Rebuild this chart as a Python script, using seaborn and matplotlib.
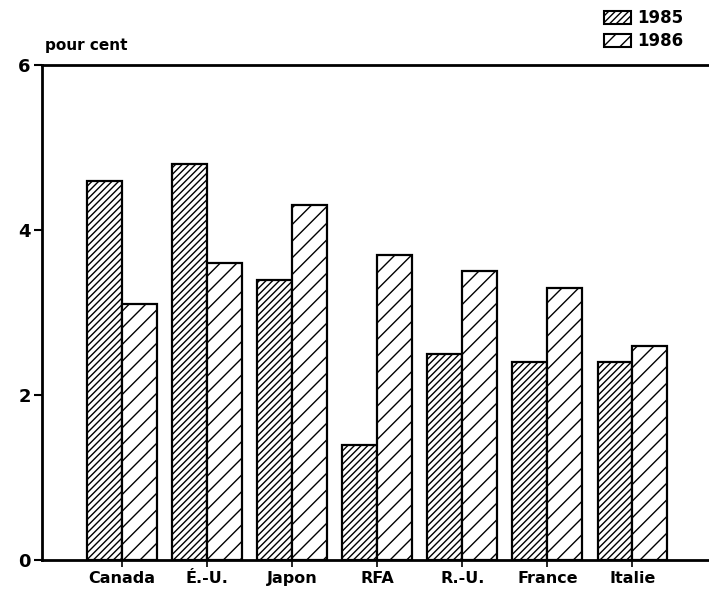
import pandas as pd
import seaborn as sns
import matplotlib.pyplot as plt
from matplotlib.patches import Patch

# Data
pays = ["Canada", "É.-U.", "Japon", "RFA", "R.-U.", "France", "Italie"]
val_1985 = [4.6, 4.8, 3.4, 1.4, 2.5, 2.4, 2.4]
val_1986 = [3.1, 3.6, 4.3, 3.7, 3.5, 3.3, 2.6]
annees = ["1985", "1986"]
hachures = ["/////", "//"]

df = pd.DataFrame({
    "pays": pays * 2,
    "annee": ["1985"] * len(pays) + ["1986"] * len(pays),
    "val": val_1985 + val_1986,
})

sns.set_style("white")
plt.rcParams["font.family"] = ["DejaVu Sans"]
plt.rcParams["hatch.linewidth"] = 1.0
plt.rcParams["text.color"] = "black"
plt.rcParams["xtick.color"] = "black"
plt.rcParams["ytick.color"] = "black"

fig = plt.figure(figsize=(7.09, 5.89), dpi=100)
ax = fig.add_axes([0.059, 0.049, 0.941, 0.8406])

sns.barplot(data=df, x="pays", y="val", hue="annee", hue_order=annees,
            palette=["white", "white"], edgecolor="black", linewidth=1.6,
            width=0.82, legend=False, ax=ax)

for cont, h in zip(ax.containers, hachures):
    for bar in cont:
        bar.set_hatch(h)

ax.set_ylim(0, 6)
ax.set_xlim(-0.94, 6.9)
ax.set_yticks([0, 2, 4, 6])
ax.set_xlabel("")
ax.set_ylabel("")

for s in ["left", "top", "bottom"]:
    ax.spines[s].set_visible(True)
    ax.spines[s].set_linewidth(2)
    ax.spines[s].set_color("black")
ax.spines["right"].set_visible(False)

ax.tick_params(axis="y", left=True, direction="out", length=6, width=1.5,
               labelsize=13, pad=2, colors="black")
ax.tick_params(axis="x", bottom=True, direction="inout", length=10, width=1.2,
               labelsize=11.5, pad=3, colors="black")
for lab in ax.get_xticklabels() + ax.get_yticklabels():
    lab.set_fontweight("bold")

fig.text(0.064, 0.915, "pour cent", fontsize=11, fontweight="bold", color="black")

handles = [Patch(facecolor="white", edgecolor="black", hatch=h, linewidth=1.5) for h in hachures]
fig.legend(handles, annees, loc="upper right", bbox_to_anchor=(0.985, 1.01),
           frameon=False, prop={"weight": "bold", "size": 12},
           handlelength=1.6, handleheight=0.8, handletextpad=0.4, labelspacing=0.3)

fig.savefig("out.png", dpi=100)
